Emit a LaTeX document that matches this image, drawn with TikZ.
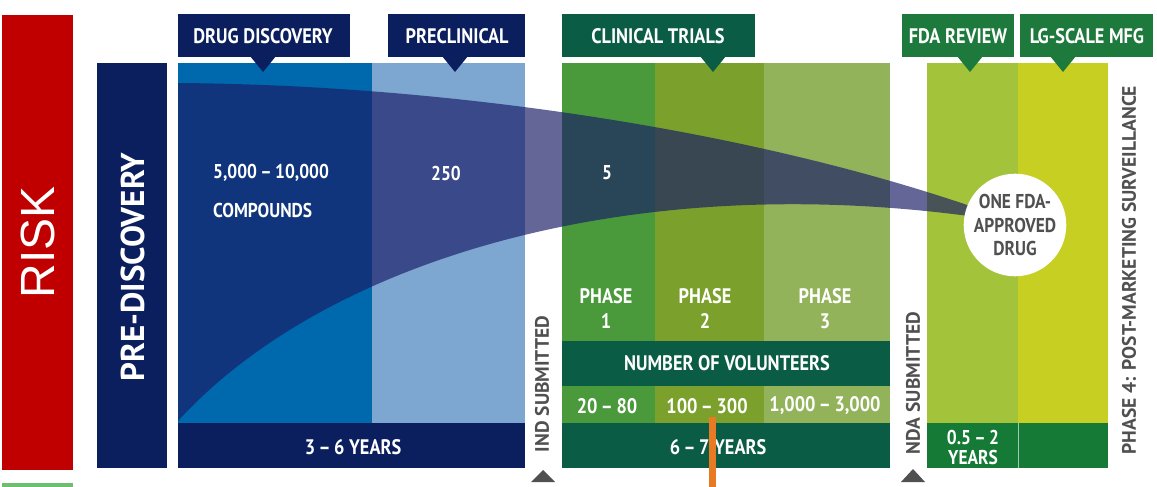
\documentclass[tikz,border=0pt]{standalone}
\usepackage{fontspec}
\setmainfont{PT Sans}
\newfontfamily\condf{PT Sans}[FakeStretch=0.87]
\newfontfamily\widef{PT Sans}
\newfontfamily\riskf{Liberation Sans}
\definecolor{riskred}{HTML}{C00000}
\definecolor{greenline}{HTML}{6DBE6E}
\definecolor{navy}{HTML}{0B1F5E}
\definecolor{ddblue}{HTML}{0069AD}
\definecolor{preblue}{HTML}{7DA7D1}
\definecolor{funnelc}{HTML}{1A1C66}
\definecolor{ph1}{HTML}{4A9A3C}
\definecolor{ph2}{HTML}{7BA12C}
\definecolor{ph3}{HTML}{93B35B}
\definecolor{ctdark}{HTML}{0A5C45}
\definecolor{fdacol}{HTML}{A3C33A}
\definecolor{mfgcol}{HTML}{C6CF22}
\definecolor{fdaband}{HTML}{157A35}
\definecolor{fdalabel}{HTML}{1E7A3C}
\definecolor{txtgrey}{HTML}{505050}
\definecolor{orangec}{HTML}{E87A24}
\tikzset{
  lbl/.style={text=white, inner sep=0pt, font=\condf\bfseries\fontsize{21}{24}\selectfont},
  num/.style={text=white, inner sep=0pt, font=\condf\bfseries\fontsize{20}{22}\selectfont},
  twoline/.style={align=center, text=white, inner sep=0pt, font=\condf\bfseries\fontsize{21}{25}\selectfont},
  vlabel/.style={rotate=90, text=txtgrey, inner sep=0pt, font=\widef\bfseries\fontsize{19.5}{19.5}\selectfont},
  tip/.style={fill=#1}
}
\begin{document}
\begin{tikzpicture}[x=1pt,y=-1pt]
\useasboundingbox (0,0) rectangle (1157,487);
\fill[white] (0,0) rectangle (1157,487);
% risk bar
\fill[riskred] (2,15) rectangle (73,470);
\node[rotate=90, text=white, inner sep=0pt, font=\riskf\fontsize{48}{48}\selectfont] (risk) at (37.5,242) {RISK};
\fill[greenline] (2,483) rectangle (73,487);
% pre-discovery
\fill[navy] (97,63) rectangle (167,468);
\node[rotate=90, text=white, inner sep=0pt, font=\widef\bfseries\fontsize{33}{33}\selectfont] (pre) at (133,267) {PRE-DISCOVERY};
% columns
\fill[ddblue] (178,63) rectangle (372,423);
\fill[preblue] (372,63) rectangle (525,423);
\fill[navy] (178,423) rectangle (525,468);
\fill[ph1] (562,63) rectangle (655,423);
\fill[ph2] (655,63) rectangle (764,423);
\fill[ph3] (764,63) rectangle (890,423);
\fill[ctdark] (562,341) rectangle (890,386);
\fill[ctdark] (562,423) rectangle (890,468);
\fill[fdacol] (927,63) rectangle (1018,423);
\fill[mfgcol] (1018,63) rectangle (1108,423);
\fill[fdaband] (927,423) rectangle (1108,468);
\draw[white, opacity=0.6, line width=0.8pt] (1018,423) -- (1018,468);
% header labels
\fill[navy] (178,14) rectangle (350,57);
\fill[tip=navy] (250,56) -- (276,56) -- (263,72) -- cycle;
\node[lbl] (tdd) at (263,36) {DRUG DISCOVERY};
\fill[navy] (388,14) rectangle (525,57);
\fill[tip=navy] (442,56) -- (468,56) -- (455,72) -- cycle;
\node[lbl] (tpc) at (457,36) {PRECLINICAL};
\fill[ctdark] (562,14) rectangle (755,57);
\fill[tip=ctdark] (700,56) -- (726,56) -- (713,72) -- cycle;
\node[lbl] (tct) at (658,36) {CLINICAL TRIALS};
\fill[fdalabel] (902,14) rectangle (1014,57);
\fill[tip=fdalabel] (957,56) -- (983,56) -- (970,72) -- cycle;
\node[lbl] (tfda) at (958,36) {FDA REVIEW};
\fill[fdalabel] (1020,14) rectangle (1153,57);
\fill[tip=fdalabel] (1050,56) -- (1076,56) -- (1063,72) -- cycle;
\node[lbl] (tmfg) at (1087,36) {LG-SCALE MFG};
% funnel
\fill[funnelc, opacity=0.67] (178,83) .. controls (450,85) and (750,130) .. (976,208)
  -- (976,217) .. controls (620,168) and (320,265) .. (178,421) -- cycle;
% circle
\node[circle, fill=white, minimum size=100pt, inner sep=0pt, align=center, text=txtgrey,
  font=\condf\bfseries\fontsize{20}{23.5}\selectfont] (drug) at (1015,225) {ONE FDA-\\APPROVED\\DRUG};
% counts
\node[num, anchor=west] (c1) at (213,173) {5,000\,–\,10,000};
\node[num, anchor=west] (c2) at (213,210) {COMPOUNDS};
\node[num] (c3) at (446,173) {250};
\node[num] (c4) at (607,173) {5};
% phases
\node[twoline] (p1) at (606,309) {PHASE\\1};
\node[twoline] (p2) at (705,309) {PHASE\\2};
\node[twoline] (p3) at (825,309) {PHASE\\3};
\node[lbl] (vol) at (727,363) {NUMBER OF VOLUNTEERS};
\node[lbl] (v1) at (607,406) {20\,–\,80};
\node[lbl] (v2) at (707,406) {100\,–\,300};
\node[lbl] (v3) at (825,406) {1,000\,–\,3,000};
\node[lbl] (y1) at (353,447) {3\,–\,6 YEARS};
\node[lbl] (y2) at (718,447) {6\,–\,7 YEARS};
\node[align=center, text=white, inner sep=0pt, font=\condf\bfseries\fontsize{20}{20}\selectfont] (y3) at (973,447) {0.5\,–\,2\\YEARS};
% vertical labels
\node[vlabel] (ind) at (542,384) {IND SUBMITTED};
\fill[txtgrey] (531,482) -- (555,482) -- (543,470) -- cycle;
\node[vlabel] (nda) at (913,383) {NDA SUBMITTED};
\fill[txtgrey] (901,482) -- (925,482) -- (913,469) -- cycle;
\node[vlabel] (ph4) at (1129,270) {PHASE 4: POST-MARKETING SURVEILLANCE};
% orange marker
\coordinate (o1) at (712,417);
\coordinate (o2) at (712,487);
\draw[orangec, line width=7pt] (o1) -- (o2);
\end{tikzpicture}
\end{document}
